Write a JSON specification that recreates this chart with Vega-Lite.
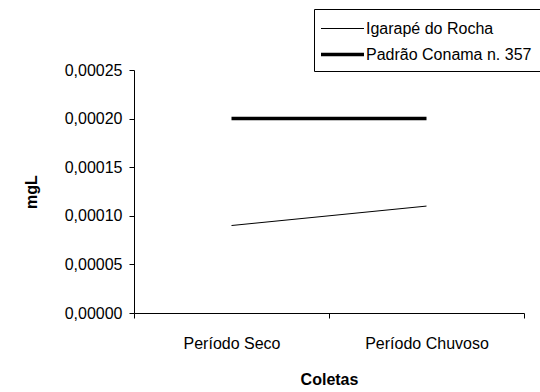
{
  "$schema": "https://vega.github.io/schema/vega-lite/v6.json",
  "width": 390,
  "height": 243,
  "autosize": {"type": "none"},
  "padding": {"left": 134, "top": 70, "right": 16, "bottom": 79},
  "background": "white",
  "config": {
    "view": {"stroke": null},
    "font": "Liberation Sans",
    "axis": {
      "domainColor": "black",
      "tickColor": "black",
      "labelColor": "black",
      "titleColor": "black",
      "grid": false,
      "labelFont": "Liberation Sans",
      "titleFont": "Liberation Sans",
      "labelFontSize": 16,
      "titleFontSize": 16,
      "titleFontWeight": "bold",
      "tickSize": 5,
      "domainWidth": 1,
      "tickWidth": 1
    },
    "legend": {
      "labelFont": "Liberation Sans",
      "labelFontSize": 16,
      "labelColor": "black"
    }
  },
  "data": {
    "values": [
      {"coleta": "Período Seco", "serie": "Igarapé do Rocha", "valor": 0.00009},
      {"coleta": "Período Chuvoso", "serie": "Igarapé do Rocha", "valor": 0.00011},
      {"coleta": "Período Seco", "serie": "Padrão Conama n. 357", "valor": 0.0002},
      {"coleta": "Período Chuvoso", "serie": "Padrão Conama n. 357", "valor": 0.0002}
    ]
  },
  "mark": {"type": "line", "color": "black", "strokeCap": "butt"},
  "encoding": {
    "x": {
      "field": "coleta",
      "type": "nominal",
      "sort": ["Período Seco", "Período Chuvoso"],
      "scale": {"paddingInner": 0, "paddingOuter": 0},
      "axis": {"title": "Coletas", "labelAngle": 0, "tickBand": "extent", "labelPadding": 17, "titlePadding": 20}
    },
    "y": {
      "field": "valor",
      "type": "quantitative",
      "scale": {"domain": [0, 0.00025], "nice": false},
      "axis": {
        "title": "mgL",
        "values": [0, 0.00005, 0.0001, 0.00015, 0.0002, 0.00025],
        "labelExpr": "replace(format(datum.value, '.5f'), '.', ',')",
        "labelPadding": 7,
        "titlePadding": 25
      }
    },
    "strokeWidth": {
      "field": "serie",
      "type": "nominal",
      "scale": {"domain": ["Igarapé do Rocha", "Padrão Conama n. 357"], "range": [1, 3.5]},
      "legend": {
        "title": null,
        "orient": "none",
        "legendX": 180,
        "legendY": -61,
        "strokeColor": "black",
        "fillColor": "white",
        "padding": 8,
        "symbolType": "M-2,0L2,0",
        "symbolSize": 462,
        "symbolOffset": 8,
        "symbolStrokeColor": "black",
        "labelOffset": 11,
        "labelLimit": 400,
        "rowPadding": 5
      }
    }
  }
}
